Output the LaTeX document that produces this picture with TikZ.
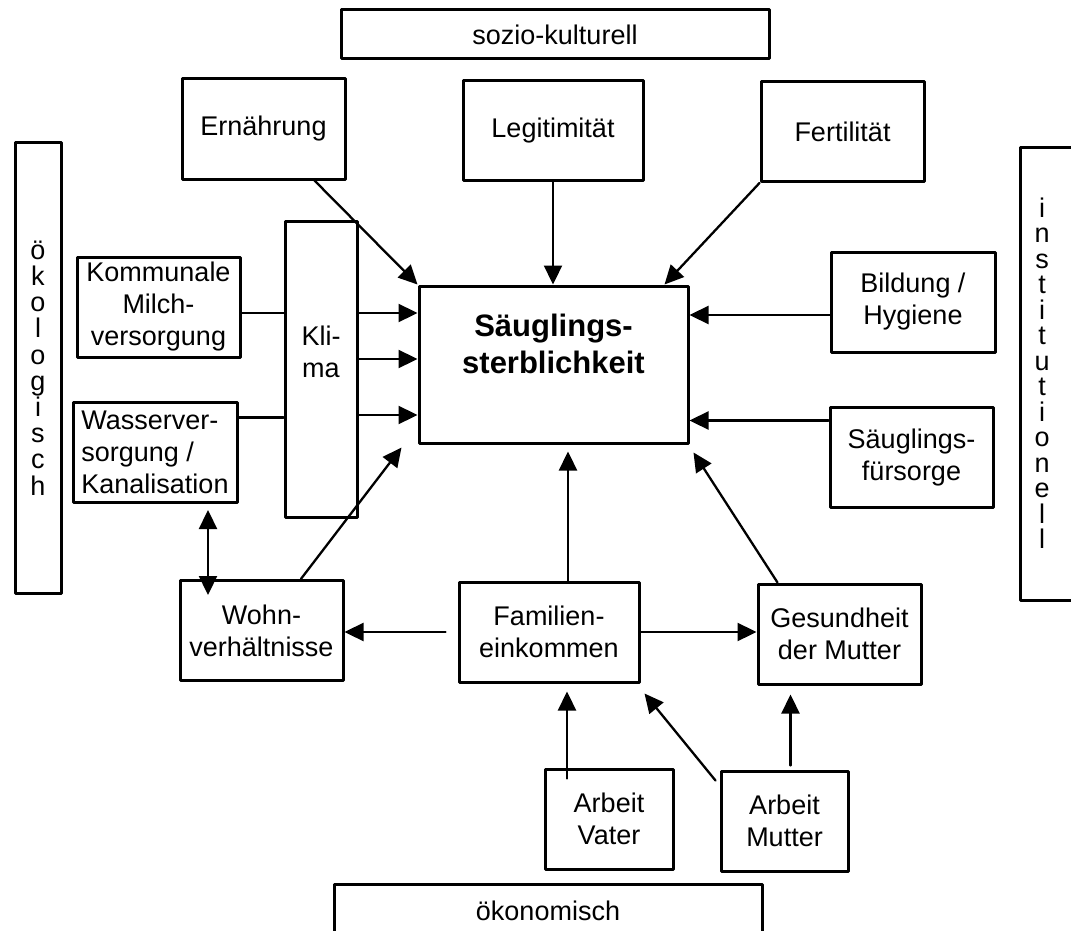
\documentclass[tikz,border=0pt]{standalone}
\usepackage{fontspec}
\setmainfont{Liberation Sans}
\usetikzlibrary{arrows.meta}

\begin{document}
\begin{tikzpicture}[
  x=1pt, y=-1pt,
  line cap=round,
  line join=round,
  every node/.style={font=\fontsize{27}{32}\selectfont},
  box/.style={draw, line width=3pt, align=center, inner sep=0pt,
    minimum width=#1, minimum height=100pt},
  box/.default=163pt,
  frame/.style={line width=3pt},
  arr/.style={line width=2.3pt, -{Triangle[length=19pt,width=18pt]}},
  biarr/.style={line width=2.3pt, {Triangle[length=19pt,width=18pt]}-{Triangle[length=19pt,width=18pt]}}
]

\useasboundingbox (0,0) rectangle (1071,931);

% --- the four areas round the diagram ---
\node[box=428pt, minimum height=49pt] (sozio) at (555,34.5) {sozio-kulturell};
\node[box=46pt, minimum height=450pt, font=\fontsize{27}{26.2}\selectfont]
  (oeko) at (38,368) {ö\\k\\o\\l\\o\\g\\i\\s\\c\\h};
\node[align=center, font=\fontsize{27}{25.5}\selectfont]
  (inst) at (1042,373) {i\\n\\s\\t\\i\\t\\u\\t\\i\\o\\n\\e\\l\\l};
\draw[frame] (1071,148) -| (1020,600) -- (1071,600);
\node (oekon) at (548,911) {ökonomisch};
\draw[frame] (334,931) |- (762,884) -- (762,931);

% --- top row ---
\node[box] (ern) at (263.5,129) {Ernährung};
\node[box=180pt] (legit) at (553,130.5) {Legitimität};
\node[box] (fert) at (842.5,131.5) {Fertilität};

% --- left side ---
\node[box] (milch) at (158.5,307) {Kommunale\\Milch-\\versorgung};
\node[box=72pt, minimum height=296pt] (klima) at (321,369) {Kli-\\ma\\[2pt]};
\node[box=164pt, align=left] (wasser) at (155,452.5) {Wasserver-\\sorgung /\\Kanalisation};

% --- centre ---
\node[box=269pt, minimum height=157pt, font=\bfseries\fontsize{31}{37}\selectfont]
  (saeug) at (553.5,364.5) {Säuglings-\\sterblichkeit\\[4pt]};

% --- right side ---
\node[box=164pt] (bild) at (913,302) {Bildung /\\Hygiene};
\node[box] (fuers) at (911.5,457.5) {Säuglings-\\fürsorge};

% --- lower rows ---
\node[box] (wohn) at (261.5,630.5) {Wohn-\\verhältnisse};
\node[box=180pt] (fam) at (549,632) {Familien-\\einkommen};
\node[box] (ges) at (839.5,634) {Gesundheit\\der Mutter};
\node[box=128pt] (vater) at (609,819) {Arbeit\\Vater};
\node[box=127pt] (mutter) at (784.5,821) {Arbeit\\Mutter};

% --- arrows into the centre ---
\draw[arr] (ern) -- (saeug.north west);
\draw[arr] (legit.south) -- (legit.south |- saeug.north);
\draw[arr] (fert.south west) -- ([xshift=-25pt]saeug.north east);
\draw[arr] ([yshift=-13pt]bild.west) -- ([yshift=-13pt]bild.west -| saeug.east);
\draw[arr] ([yshift=37pt]fuers.west) -- ([yshift=37pt]fuers.west -| saeug.east);
\foreach \dy in {56,10,-46}
  \draw[arr] ([yshift=\dy pt]klima.east) -- ([yshift=\dy pt]klima.east -| saeug.west);
\draw[arr] (wohn) -- ([xshift=-16pt,yshift=-3pt]saeug.south west);
\draw[arr] ([xshift=19pt]fam.north) -- ([xshift=19pt,yshift=-7pt]fam.north |- saeug.south);
\draw[arr] ([xshift=-62pt]ges.north) -- ([xshift=4pt,yshift=-8pt]saeug.south east);

% --- lines into Klima ---
\draw[line width=2.3pt] ([yshift=-6pt]milch.east) -- ([yshift=-6pt]milch.east -| klima.west);
\draw[line width=2.3pt] ([yshift=35pt]wasser.east) -- ([yshift=35pt]wasser.east -| klima.west);

% --- lower connections ---
\draw[biarr] ([xshift=53pt,yshift=-6pt]wasser.south)
  -- ([xshift=53pt,yshift=-16pt]wasser.south |- wohn.north);
\draw[arr] ([xshift=-12pt]fam.west) -- (fam.west -| wohn.east);
\draw[arr] (fam.east) -- (fam.east -| ges.west);
\draw[arr] ([xshift=-42pt,yshift=-11pt]vater.north)
  -- ([xshift=-42pt,yshift=-8pt]vater.north |- fam.south);
\draw[arr] ([xshift=-4pt,yshift=-11pt]mutter.north west) -- ([xshift=4pt,yshift=-10pt]fam.south east);
\draw[arr] ([xshift=6pt,yshift=4pt]mutter.north) -- ([xshift=6pt,yshift=-9pt]mutter.north |- ges.south);

\end{tikzpicture}
\end{document}
